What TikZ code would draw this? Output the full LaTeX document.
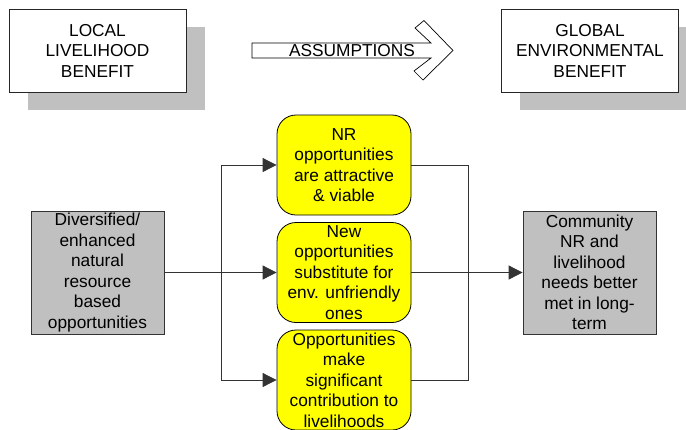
\documentclass[tikz,border=0pt]{standalone}
\usepackage{fontspec}
\setmainfont{Liberation Sans}
\usetikzlibrary{arrows.meta}
\definecolor{shadowgrey}{HTML}{C0C0C0}
\definecolor{hilite}{HTML}{FFFF00}
\tikzset{
  txt/.style={font=\fontsize{17.3}{20.5}\selectfont, align=center, inner sep=0pt},
  headbox/.style={txt, draw=black!85, line width=0.8pt, fill=white, minimum width=177pt, minimum height=83pt},
  greybox/.style={txt, draw=black!80, line width=0.8pt, fill=shadowgrey, minimum width=133pt, minimum height=123pt},
  condbox/.style={txt, draw=black, line width=0.8pt, fill=hilite, rounded corners=19pt, minimum width=134pt, minimum height=100pt},
  link/.style={draw=black!80, line width=0.8pt},
  flow/.style={link, -{Triangle[length=14pt,width=14pt]}},
}
\begin{document}
\begin{tikzpicture}[x=1pt,y=-1pt]
\useasboundingbox (0,0) rectangle (686,429);

% headline boxes with drop shadows
\fill[shadowgrey] (28,27) rectangle (205,110);
\node[headbox] (local) at (97.5,50.5) {LOCAL\\LIVELIHOOD\\BENEFIT};
\fill[shadowgrey] (520,27) rectangle (687,110);
\node[headbox] (global) at (590,50.5) {GLOBAL\\ENVIRONMENTAL\\BENEFIT};

% open block arrow between the headlines
\draw[line width=0.7pt, fill=white] (252,43) -- (431,43) -- (415,28) -- (424,20.5)
  -- (453,50.5) -- (423,80) -- (414,71) -- (431,58) -- (252,58) -- cycle;
\node[txt] (assume) at (352,51) {ASSUMPTIONS};

% causal chain
\node[greybox] (source) at (97.5,272.5) {Diversified/\\enhanced\\natural\\resource\\based\\opportunities};
\node[greybox] (target) at (589.5,272.5) {Community\\NR and\\livelihood\\needs better\\met in long-\\term};

\node[condbox] (c1) at (344,165) {NR\\opportunities\\are attractive\\\& viable};
\node[condbox] (c2) at (344,272.5) {New\\opportunities\\substitute for\\env. unfriendly\\ones};
\node[condbox] (c3) at (344,380) {Opportunities\\make\\significant\\contribution to\\livelihoods};

\coordinate (split) at (221,272.5);
\coordinate (join) at (468,272.5);

\draw[flow] (source.east) -- (c2.west);
\draw[flow] (split) |- (c1.west);
\draw[flow] (split) |- (c3.west);

\draw[link] (c1.east) -| (join);
\draw[link] (c3.east) -| (join);
\draw[flow] (c2.east) -- (target.west);
\end{tikzpicture}
\end{document}
